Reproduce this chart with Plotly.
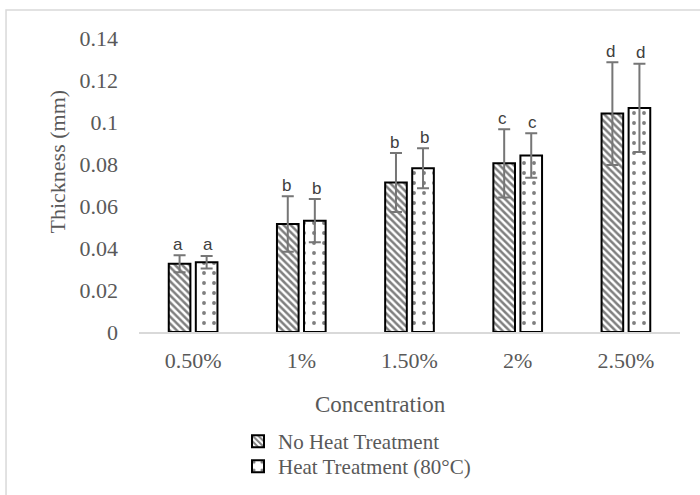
import plotly.graph_objects as go

categories = ["0.50%", "1%", "1.50%", "2%", "2.50%"]
no_heat = [0.0325, 0.0514, 0.0712, 0.0803, 0.1040]
no_heat_err = [0.0040, 0.0132, 0.0140, 0.0162, 0.0245]
heat = [0.0332, 0.0530, 0.0780, 0.0840, 0.1067]
heat_err = [0.0030, 0.0103, 0.0095, 0.0106, 0.0210]
letters_no_heat = ["a", "b", "b", "c", "d"]
letters_heat = ["a", "b", "b", "c", "d"]
y_tickvals = [0, 0.02, 0.04, 0.06, 0.08, 0.1, 0.12, 0.14]
y_ticktext = ["0", "0.02", "0.04", "0.06", "0.08", "0.1", "0.12", "0.14"]

serif = "Liberation Serif"
gray = "#595959"

fig = go.Figure()
fig.add_trace(go.Bar(
    name="No Heat Treatment", x=categories, y=no_heat, legend="legend",
    error_y=dict(type="data", array=no_heat_err, color="#767676", thickness=2, width=6),
    marker=dict(color="white", line=dict(color="black", width=2),
                pattern=dict(shape="\\", fgcolor="black", bgcolor="white", size=5, solidity=0.5)),
))
fig.add_trace(go.Bar(
    name="Heat Treatment (80°C)", x=categories, y=heat, legend="legend2",
    error_y=dict(type="data", array=heat_err, color="#767676", thickness=2, width=6),
    marker=dict(color="white", line=dict(color="black", width=2),
                pattern=dict(shape=".", fgcolor="black", bgcolor="white", size=10, solidity=0.12)),
))

for i, c in enumerate(categories):
    fig.add_annotation(x=c, y=no_heat[i] + no_heat_err[i], text=letters_no_heat[i],
                       xshift=-15, yshift=11, showarrow=False,
                       font=dict(family="Liberation Sans", size=17, color="#404040"))
    fig.add_annotation(x=c, y=heat[i] + heat_err[i], text=letters_heat[i],
                       xshift=15, yshift=11, showarrow=False,
                       font=dict(family="Liberation Sans", size=17, color="#404040"))

fig.add_annotation(xref="paper", yref="paper", x=0.4455, y=-0.248, text="Concentration",
                   showarrow=False, xanchor="center", yanchor="middle",
                   font=dict(family=serif, size=23, color=gray))
fig.add_annotation(xref="paper", yref="paper", x=-0.1516, y=0.58, text="Thickness (mm)",
                   showarrow=False, xanchor="center", yanchor="middle", textangle=-90,
                   font=dict(family=serif, size=22, color=gray))

fig.add_shape(type="rect", xref="paper", yref="paper",
              x0=-0.2458, x1=1.2, y0=-0.7, y1=1.095,
              line=dict(color="#d9d9d9", width=1.5), fillcolor="rgba(0,0,0,0)", layer="below")

leg_common = dict(xref="container", yref="container", xanchor="left", yanchor="top",
                  font=dict(family=serif, size=21, color=gray),
                  itemwidth=30, tracegroupgap=0, bgcolor="rgba(0,0,0,0)")

fig.update_layout(
    width=700, height=495,
    margin=dict(l=139, r=20, t=38, b=163, autoexpand=False),
    paper_bgcolor="white", plot_bgcolor="white",
    barmode="group", bargap=0.5, bargroupgap=0.2,
    showlegend=True,
    legend=dict(x=238 / 700, y=1 - 421 / 495, **leg_common),
    legend2=dict(x=238 / 700, y=1 - 446 / 495, **leg_common),
    xaxis=dict(tickfont=dict(family=serif, size=22, color=gray), automargin=False,
               showline=True, linecolor="#d9d9d9", linewidth=1.5, ticks="", showgrid=False,
               ticklabelstandoff=8),
    yaxis=dict(tickfont=dict(family=serif, size=22, color=gray), automargin=False,
               range=[0, 0.14], tickvals=y_tickvals, ticktext=y_ticktext,
               showgrid=False, zeroline=False, showline=False, ticks="", ticklabelstandoff=20),
)

fig.write_html("out.html")
